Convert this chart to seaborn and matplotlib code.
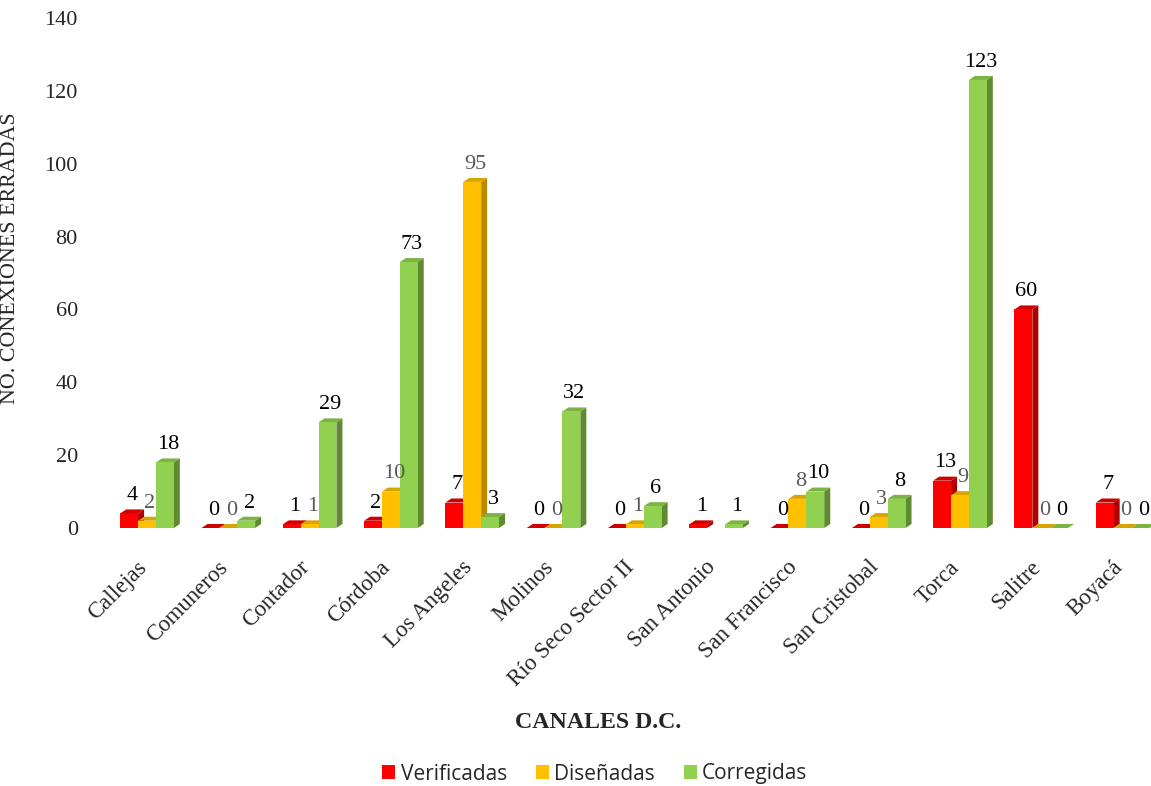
import numpy as np
import pandas as pd
import matplotlib
matplotlib.use("Agg")
import matplotlib.pyplot as plt
import matplotlib.transforms as mtransforms
from matplotlib.patches import Polygon, Patch
import seaborn as sns

canales = ["Callejas", "Comuneros", "Contador", "Córdoba", "Los Angeles", "Molinos",
           "Río Seco Sector II", "San Antonio", "San Francisco", "San Cristobal",
           "Torca", "Salitre", "Boyacá"]
verificadas = [4, 0, 1, 2, 7, 0, 0, 1, 0, 0, 13, 60, 7]
disenadas = [2, 0, 1, 10, 95, 0, 1, np.nan, 8, 3, 9, 0, 0]
corregidas = [18, 2, 29, 73, 3, 32, 6, 1, 10, 8, 123, 0, 0]
series = ["Verificadas", "Diseñadas", "Corregidas"]
yticks = [0, 20, 40, 60, 80, 100, 120, 140]

face = {"Verificadas": "#FF0000", "Diseñadas": "#FFC000", "Corregidas": "#92D050"}
side = {"Verificadas": "#B00000", "Diseñadas": "#B88A00", "Corregidas": "#5F8A30"}
topc = {"Verificadas": "#D00000", "Diseñadas": "#D9A300", "Corregidas": "#7CB342"}
label_color = {"Verificadas": "black", "Diseñadas": "#595959", "Corregidas": "black"}

df = pd.DataFrame({
    "Canal": np.repeat(canales, 3),
    "Serie": series * len(canales),
    "Valor": np.ravel(np.column_stack([verificadas, disenadas, corregidas])),
})

sns.set_theme(style="white")
plt.rcParams["font.family"] = ["Liberation Serif", "DejaVu Serif"]

fig = plt.figure(figsize=(11.51, 7.86), dpi=100)
W, H = 1151, 786
y0_px, y140_px = 528, 18
ax = fig.add_axes([100 / W, (H - y0_px) / H, (W - 100) / W, (y0_px - y140_px) / H])

sns.barplot(data=df.dropna(), x="Canal", y="Valor", hue="Serie", order=canales,
            hue_order=series, palette=face, width=0.66, errorbar=None,
            legend=False, ax=ax, linewidth=0, saturation=1)

# 3D depth of each bar in data units
px_x = 81.3
px_y = (y0_px - y140_px) / 140
dx = 6 / px_x
dy = 4 / px_y

vals = {"Verificadas": verificadas, "Diseñadas": disenadas, "Corregidas": corregidas}
bars = list(ax.patches)
k = 0
for s_i, s in enumerate(series):
    for c_i, c in enumerate(canales):
        v = vals[s][c_i]
        if np.isnan(v):
            continue
        r = bars[k]
        k += 1
        x0 = r.get_x()
        w = r.get_width()
        h = r.get_height()
        z = 2 + c_i * 3 + s_i
        r.set_zorder(z + 0.2)
        top = Polygon([(x0, h), (x0 + w, h), (x0 + w + dx, h + dy), (x0 + dx, h + dy)],
                      closed=True, facecolor=topc[s], edgecolor="none", zorder=z + 0.1)
        sd = Polygon([(x0 + w, 0), (x0 + w + dx, dy), (x0 + w + dx, h + dy), (x0 + w, h)],
                     closed=True, facecolor=side[s], edgecolor="none", zorder=z)
        ax.add_patch(top)
        ax.add_patch(sd)
        ax.annotate(f"{int(v)}", (x0 + w / 2 + dx / 2, h + dy), xytext=(0, 3),
                    textcoords="offset points", ha="center", va="bottom",
                    fontsize=16, color=label_color[s], zorder=100)

ax.set_xlim(-(147 - 100) / px_x, (W - 147) / px_x)
ax.set_ylim(0, 140)
ax.set_yticks(yticks)
ax.set_yticklabels([str(t) for t in yticks], fontsize=16)
for sp in ax.spines.values():
    sp.set_visible(False)
ax.tick_params(axis="y", length=0, pad=16)
ax.tick_params(axis="x", length=0, pad=17)
ax.set_xticks(range(len(canales)))
ax.set_xticklabels(canales, rotation=45, ha="right", rotation_mode="anchor", fontsize=16.5)
shift = mtransforms.ScaledTranslation(-11 / 100, -5 / 100, fig.dpi_scale_trans)
for lab in ax.get_xticklabels():
    lab.set_transform(lab.get_transform() + shift)
ax.set_xlabel("")
ax.set_ylabel("NO. CONEXIONES ERRADAS", fontsize=15.8)
ax.yaxis.set_label_coords(-80 / (W - 100), 0.53)
ax.grid(False)

fig.text(598 / W, 1 - 722 / H, "CANALES D.C.", ha="center", va="center",
         fontsize=17.2, fontweight="bold")

handles = [Patch(facecolor=face[s], edgecolor="none", label=s) for s in series]
fig.legend(handles=handles, loc="center", bbox_to_anchor=(595 / W, 1 - 774 / H),
           ncol=3, frameon=False, handlelength=0.62, handleheight=0.62,
           handletextpad=0.25, columnspacing=1.4,
           prop={"family": "Open Sans", "size": 15})

fig.savefig("out.png", dpi=100)
